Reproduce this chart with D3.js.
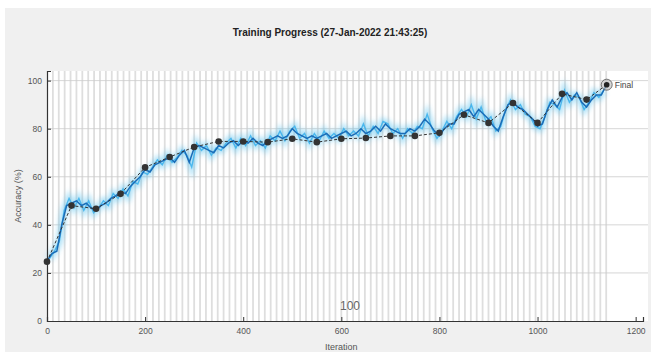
<!DOCTYPE html>
<html>
<head>
<meta charset="utf-8">
<script src="https://cdn.jsdelivr.net/npm/d3@7"></script>
<style>
  body { margin: 0; background: #fff; }
  text { font-family: "Liberation Sans", Arial, sans-serif; }
</style>
</head>
<body>
<script>
// smoothed training accuracy, every 10 iterations from 0
var trainAcc = [25,28,29,40,48,49,50,48,49,47,46,48,49,51,52,54,53,56,58,60,
  63,62,65,66,67,68,66,69,71,66,72,73,72,71,70,73,72,74,75,73,
  75,74,76,74,73,75,76,77,76,77,80,78,77,76,77,76,77,78,76,77,
  78,79,77,78,80,78,79,81,79,82,80,79,78,78,80,79,81,84,82,79,
  77,80,82,82,86,87,88,85,88,86,84,81,79,85,90,91,89,88,86,84,
  81,82,88,92,89,93,95,92,95,91,89,92,94,94,98]
// raw mini-batch accuracy, every 10 iterations from 5
var rawAcc = [26,29,33,46,51,47,51,46,50,45,47,50,48,53,51,55,52,58,57,62,
  61,64,67,65,69,66,68,71,69,64,74,71,73,69,72,71,74,76,72,76,
  73,77,73,75,72,77,75,79,75,79,81,76,78,74,78,75,79,76,78,76,
  80,77,79,77,82,77,81,78,83,82,78,80,76,80,78,81,80,86,80,76,
  79,83,80,85,88,85,90,84,89,83,85,79,81,88,92,88,90,86,85,81,
  80,85,91,90,88,96,91,94,93,88,91,95,93,96]
var valIter = [0,50,100,150,200,250,300,350,400,450,500,550,600,650,700,750,800,850,900,950,1000,1050,1100,1141]
var valAcc = [24.7,48,46.7,52.9,63.9,68.2,72.4,74.7,74.7,74.4,75.8,74.4,75.8,76.1,77,77,78.3,85.8,82.4,90.7,82.4,94.5,92.1,98.3]
var xTicks = [0,200,400,600,800,1000,1200]
var yTicks = [0,20,40,60,80,100]
var itersPerEpoch = 12, lastIter = 1141

var W = 651, H = 362
var x = d3.scaleLinear().domain([0, 1215]).range([47, 643])
var y = d3.scaleLinear().domain([0, 104]).range([321, 71])

var svg = d3.select("body").append("svg").attr("width", W).attr("height", H)

var defs = svg.append("defs")
defs.append("filter").attr("id", "blur").attr("x", "-10%").attr("y", "-30%")
  .attr("width", "120%").attr("height", "160%")
  .append("feGaussianBlur").attr("stdDeviation", 2.5)

// figure panel
svg.append("rect").attr("x", 5).attr("y", 8).attr("width", 646).attr("height", 344).attr("fill", "#f0f0f0")
// axes area
svg.append("rect").attr("x", x(0)).attr("y", y(104)).attr("width", 648 - x(0))
  .attr("height", y(0) - y(104)).attr("fill", "#fff")

// epoch stripes
var epochs = d3.range(itersPerEpoch, lastIter, itersPerEpoch)
svg.append("g").selectAll("line").data(epochs).enter().append("line")
  .attr("x1", function(d) { return x(d) }).attr("x2", function(d) { return x(d) })
  .attr("y1", y(104)).attr("y2", y(0))
  .attr("stroke", "#dedede").attr("stroke-width", 1.8)

// horizontal grid
svg.append("g").selectAll("line").data(yTicks.slice(1)).enter().append("line")
  .attr("x1", x(0)).attr("x2", 648)
  .attr("y1", function(d) { return y(d) }).attr("y2", function(d) { return y(d) })
  .attr("stroke", "#cccccc").attr("stroke-width", 0.8)

var rawLine = d3.line().x(function(d, i) { return x(i * 10 + 5) }).y(function(d) { return y(d) })
var trainLine = d3.line().x(function(d, i) { return x(i * 10) }).y(function(d) { return y(d) })

svg.append("path").datum(rawAcc).attr("d", rawLine).attr("fill", "none")
  .attr("stroke", "#4dbeee").attr("stroke-width", 7).attr("opacity", 0.45).attr("filter", "url(#blur)")
svg.append("path").datum(rawAcc).attr("d", rawLine).attr("fill", "none")
  .attr("stroke", "#3fb2ec").attr("stroke-width", 1.4).attr("opacity", 0.9)
svg.append("path").datum(trainAcc).attr("d", trainLine).attr("fill", "none")
  .attr("stroke", "#1a6db8").attr("stroke-width", 1.5)

// validation
var valLine = d3.line().x(function(d, i) { return x(valIter[i]) }).y(function(d) { return y(d) })
svg.append("path").datum(valAcc).attr("d", valLine).attr("fill", "none")
  .attr("stroke", "#333").attr("stroke-width", 1).attr("stroke-dasharray", "3,2")
svg.append("g").selectAll("circle").data(valAcc.slice(0, -1)).enter().append("circle")
  .attr("cx", function(d, i) { return x(valIter[i]) }).attr("cy", function(d) { return y(d) })
  .attr("r", 3.3).attr("fill", "#333")

// final marker
var fx = x(valIter[valIter.length - 1]), fy = y(valAcc[valAcc.length - 1])
svg.append("circle").attr("cx", fx).attr("cy", fy).attr("r", 5.5)
  .attr("fill", "#bbb").attr("fill-opacity", 0.6).attr("stroke", "#555").attr("stroke-width", 0.8)
svg.append("circle").attr("cx", fx).attr("cy", fy).attr("r", 2.8).attr("fill", "#222")
svg.append("text").attr("x", fx + 8).attr("y", fy + 3).attr("font-size", 8.5).attr("fill", "#444").text("Final")

// axes
var xAxis = d3.axisBottom(x).tickValues(xTicks).tickFormat(d3.format("d")).tickSize(-4).tickPadding(7)
var yAxis = d3.axisLeft(y).tickValues(yTicks).tickFormat(d3.format("d")).tickSize(-4).tickPadding(5)
var gx = svg.append("g").attr("transform", "translate(0," + y(0) + ")").call(xAxis)
var gy = svg.append("g").attr("transform", "translate(" + x(0) + ",0)").call(yAxis)
;[gx, gy].forEach(function(g) {
  g.select(".domain").attr("stroke", "#333").attr("stroke-width", 1.2)
  g.selectAll(".tick line").attr("stroke", "#333")
  g.selectAll(".tick text").attr("fill", "#555").attr("font-size", 8.5)
    .attr("font-family", "Liberation Sans, Arial, sans-serif")
})

// labels
svg.append("text").attr("x", 330).attr("y", 36).attr("text-anchor", "middle")
  .attr("font-size", 10).attr("font-weight", "bold").attr("fill", "#222")
  .text("Training Progress (27-Jan-2022 21:43:25)")
svg.append("text").attr("x", x(600)).attr("y", 350).attr("text-anchor", "middle")
  .attr("font-size", 9).attr("fill", "#555").text("Iteration")
svg.append("text").attr("transform", "translate(21," + y(52) + ") rotate(-90)")
  .attr("text-anchor", "middle").attr("font-size", 9).attr("fill", "#555").text("Accuracy (%)")
svg.append("text").attr("x", 350).attr("y", 310).attr("text-anchor", "middle")
  .attr("font-size", 12).attr("fill", "#666").text("100")
</script>
</body>
</html>
